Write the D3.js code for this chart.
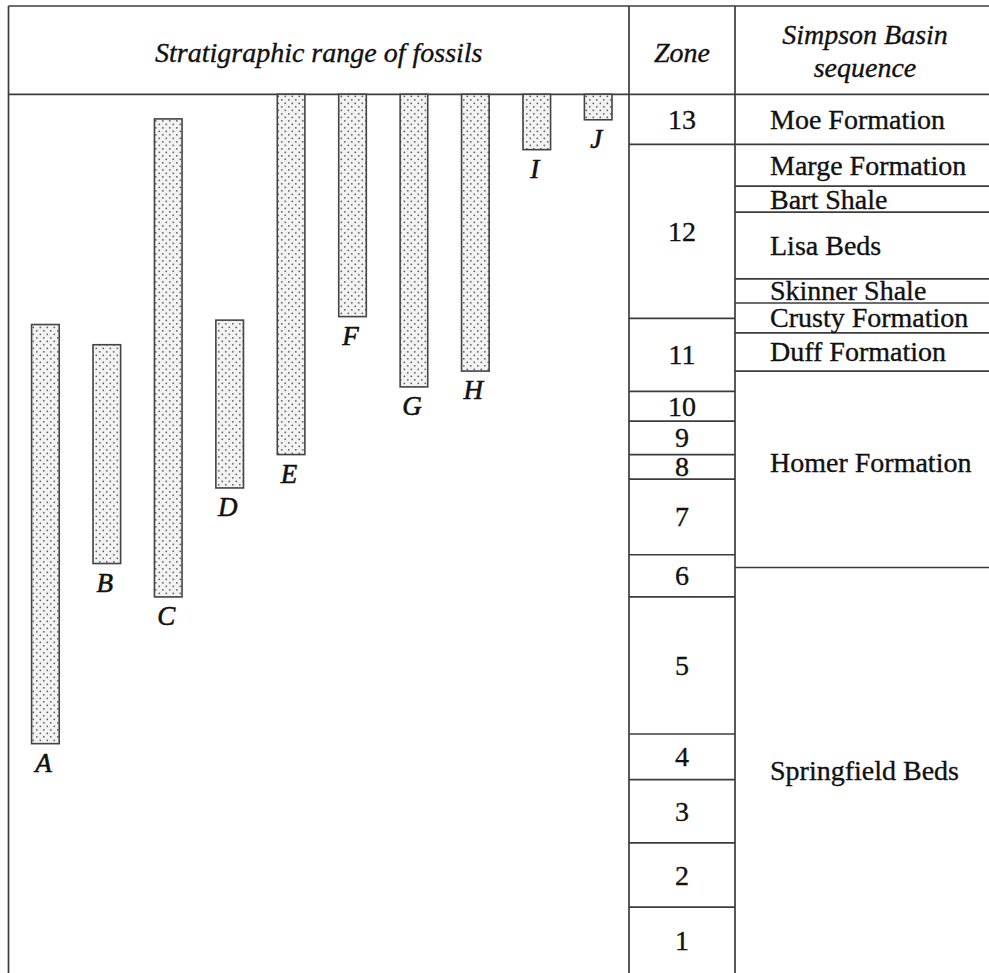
<!DOCTYPE html>
<html>
<head>
<meta charset="utf-8">
<script src="https://cdn.jsdelivr.net/npm/d3@7"></script>
<style>
  html, body { margin: 0; padding: 0; background: #fff; }
  svg { display: block; }
  text { font-family: "Liberation Serif", "Times New Roman", serif; fill: #111; stroke: #111; stroke-width: 0.35px; }
</style>
</head>
<body>
<div id="chart"></div>
<script>
// ---------- DATA (stratigraphic height, 0 = base of section, 100 = top) ----------
const fossils     = ["A", "B", "C", "D", "E", "F", "G", "H", "I", "J"];
const fossilBase  = [26.1, 46.6, 42.8, 55.2, 59.0, 74.7, 66.7, 68.5, 93.7, 97.1];
const fossilTop   = [73.8, 71.5, 97.2, 74.3, 100, 100, 100, 100, 100, 100];

const zones       = ["1", "2", "3", "4", "5", "6", "7", "8", "9", "10", "11", "12", "13"];
const zoneTops    = [7.5, 14.8, 22.0, 27.2, 42.8, 47.6, 56.2, 59.0, 62.8, 66.2, 74.5, 94.3, 100];

const formations    = ["Springfield Beds", "Homer Formation", "Duff Formation", "Crusty Formation",
                       "Skinner Shale", "Lisa Beds", "Bart Shale", "Marge Formation", "Moe Formation"];
const formationTops = [46.15, 68.5, 72.85, 76.25, 79.0, 86.6, 89.55, 94.3, 100];

const headerRange = "Stratigraphic range of fossils";
const headerZone = "Zone";
const headerSequence = ["Simpson Basin", "sequence"];

(function () {
// ---------- LAYOUT ----------
const W = 989, H = 973;
const frameL = 8.5, frameT = 6, headBottom = 94.3, frameB = 973;
const zoneL = 629, zoneR = 735, frameR = 989;
const lineColor = "#3c3c3c", lineW = 1.7;
const fs = 28;

const svg = d3.select("#chart").append("svg")
  .attr("width", W).attr("height", H)
  .attr("viewBox", `0 0 ${W} ${H}`);

// dotted fill pattern
const defs = svg.append("defs");
const pat = defs.append("pattern")
  .attr("id", "dots").attr("patternUnits", "userSpaceOnUse")
  .attr("width", 7).attr("height", 7);
pat.append("rect").attr("width", 7).attr("height", 7).attr("fill", "#f2f2f2");
pat.append("circle").attr("cx", 1.8).attr("cy", 1.8).attr("r", 0.9).attr("fill", "#5e5e5e");
pat.append("circle").attr("cx", 5.3).attr("cy", 5.3).attr("r", 0.9).attr("fill", "#5e5e5e");

// scales
const y = d3.scaleLinear().domain([0, 100]).range([frameB, headBottom]);
const x = d3.scalePoint().domain(fossils).range([45.4, 598.2]);
const barW = 27.6;

// ---------- TABLE FRAME ----------
const frame = svg.append("g").attr("stroke", lineColor).attr("stroke-width", lineW).attr("fill", "none");
frame.append("line").attr("x1", frameL).attr("x2", frameR).attr("y1", frameT).attr("y2", frameT);
frame.append("line").attr("x1", frameL).attr("x2", frameR).attr("y1", headBottom).attr("y2", headBottom);
frame.append("line").attr("x1", frameL).attr("x2", frameL).attr("y1", frameT).attr("y2", frameB);
frame.append("line").attr("x1", zoneL).attr("x2", zoneL).attr("y1", frameT).attr("y2", frameB);
frame.append("line").attr("x1", zoneR).attr("x2", zoneR).attr("y1", frameT).attr("y2", frameB);

// ---------- HEADERS ----------
svg.append("text").attr("x", (frameL + zoneL) / 2).attr("y", 62)
  .attr("text-anchor", "middle").attr("font-style", "italic").attr("font-size", fs)
  .text(headerRange);
svg.append("text").attr("x", (zoneL + zoneR) / 2).attr("y", 62)
  .attr("text-anchor", "middle").attr("font-style", "italic").attr("font-size", fs)
  .text(headerZone);
svg.append("text").attr("x", 865).attr("y", 44)
  .attr("text-anchor", "middle").attr("font-style", "italic").attr("font-size", fs)
  .selectAll("tspan").data(headerSequence).join("tspan")
  .attr("x", 865).attr("dy", (d, i) => i === 0 ? 0 : 33).text(d => d);

// ---------- ZONES ----------
const zoneData = zones.map((z, i) => ({ name: z, lo: i === 0 ? 0 : zoneTops[i - 1], hi: zoneTops[i] }));
frame.selectAll("line.zb").data(zoneData.filter(d => d.hi < 100)).join("line")
  .attr("class", "zb")
  .attr("x1", zoneL).attr("x2", zoneR)
  .attr("y1", d => y(d.hi)).attr("y2", d => y(d.hi));
svg.selectAll("text.zl").data(zoneData).join("text")
  .attr("class", "zl")
  .attr("x", (zoneL + zoneR) / 2)
  .attr("y", d => y((d.lo + d.hi) / 2))
  .attr("dy", "0.34em")
  .attr("text-anchor", "middle").attr("font-size", fs)
  .text(d => d.name);

// ---------- FORMATIONS ----------
const fmData = formations.map((f, i) => ({ name: f, lo: i === 0 ? 0 : formationTops[i - 1], hi: formationTops[i] }));
frame.selectAll("line.fb").data(fmData.filter(d => d.hi < 100)).join("line")
  .attr("class", "fb")
  .attr("x1", zoneR).attr("x2", frameR)
  .attr("y1", d => y(d.hi)).attr("y2", d => y(d.hi));
svg.selectAll("text.fl").data(fmData).join("text")
  .attr("class", "fl")
  .attr("x", 770)
  .attr("y", d => {
    const mid = y((d.lo + d.hi) / 2);
    // the tall Homer interval has its label set a little above centre
    return (y(d.lo) - y(d.hi)) > 150 && (y(d.lo) - y(d.hi)) < 300 ? mid - 7 : mid;
  })
  .attr("dy", "0.34em")
  .attr("font-size", fs)
  .text(d => d.name);

// ---------- FOSSIL RANGE BARS ----------
const fossilData = fossils.map((f, i) => ({ name: f, lo: fossilBase[i], hi: fossilTop[i] }));
svg.append("g").selectAll("rect").data(fossilData).join("rect")
  .attr("x", d => x(d.name) - barW / 2)
  .attr("width", barW)
  .attr("y", d => y(d.hi))
  .attr("height", d => y(d.lo) - y(d.hi))
  .attr("fill", "url(#dots)")
  .attr("stroke", "#444").attr("stroke-width", 1.6);

svg.append("g").selectAll("text").data(fossilData).join("text")
  .attr("x", d => x(d.name) - 2)
  .attr("y", d => y(d.lo) + 28)
  .attr("text-anchor", "middle")
  .attr("font-style", "italic")
  .attr("font-size", 27)
  .style("stroke-width", "0.6px")
  .text(d => d.name);
})();
</script>
</body>
</html>
